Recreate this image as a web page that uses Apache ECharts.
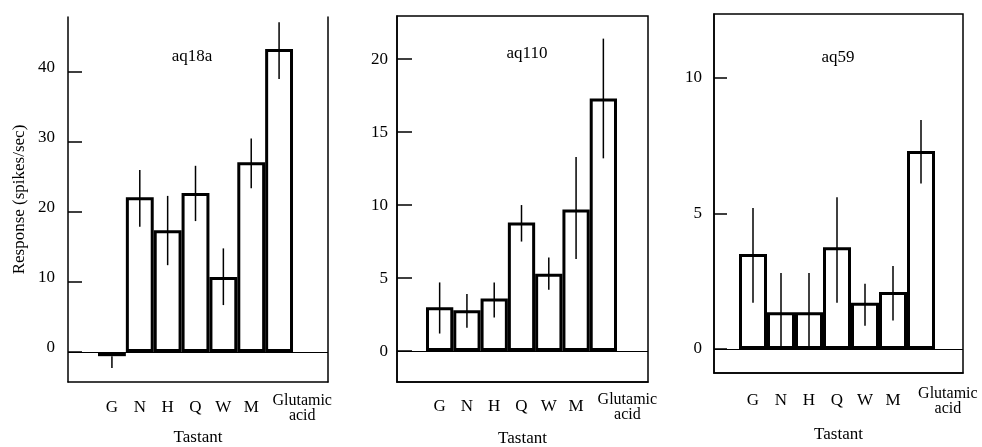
<!DOCTYPE html>
<html>
<head>
<meta charset="utf-8">
<script src="https://cdn.jsdelivr.net/npm/echarts@6/dist/echarts.min.js"></script>
<style>
  html, body { margin: 0; padding: 0; background: #fff; }
  #chart { width: 982px; height: 447px; }
</style>
</head>
<body>
<div id="chart"></div>
<script>
// tastants, same order in every panel
const categories = ['G', 'N', 'H', 'Q', 'W', 'M', 'Glutamic acid'];

// aq18a
const aq18aMean = [-0.6, 22.1, 17.4, 22.7, 10.7, 27.1, 43.3];
const aq18aLow  = [-2.3, 17.9, 12.4, 18.7, 6.7, 23.4, 39.0];
const aq18aHigh = [-0.6, 26.0, 22.3, 26.6, 14.8, 30.5, 47.1];
const aq18aTicks = [0, 10, 20, 30, 40];

// aq110
const aq110Mean = [3.0, 2.8, 3.6, 8.8, 5.3, 9.7, 17.3];
const aq110Low  = [1.2, 1.6, 2.3, 7.5, 4.2, 6.3, 13.2];
const aq110High = [4.7, 3.9, 4.7, 10.0, 6.4, 13.3, 21.4];
const aq110Ticks = [0, 5, 10, 15, 20];

// aq59
const aq59Mean = [3.5, 1.35, 1.35, 3.75, 1.7, 2.1, 7.3];
const aq59Low  = [1.7, 0, 0, 1.7, 0.85, 1.05, 6.1];
const aq59High = [5.2, 2.8, 2.8, 5.6, 2.4, 3.06, 8.45];
const aq59Ticks = [0, 5, 10];

const FONT = 'Liberation Serif';

// glutShift: the two-line last label sits to the right of its bar in the print
// lift: tick labels of the first panel sit a little above their ticks
const panels = [
  { name: 'aq18a', mean: aq18aMean, low: aq18aLow, high: aq18aHigh, ticks: aq18aTicks,
    grid: { left: 68, top: 17, width: 260, height: 365 }, x: [-1.577, 7.756], y: [-4.29, 47.86],
    tickLen: 14, labelMargin: 13, lift: true, catMargin: 26, namegap: 47, glutShift: 0.83, title: [192, 48], frame: false },
  { name: 'aq110', mean: aq110Mean, low: aq110Low, high: aq110High, ticks: aq110Ticks,
    grid: { left: 397, top: 16, width: 251, height: 366 }, x: [-1.563, 7.636], y: [-2.12, 22.95],
    tickLen: 15, labelMargin: 9, lift: false, catMargin: 25, namegap: 48, glutShift: 0.88, title: [527, 45], frame: true },
  { name: 'aq59', mean: aq59Mean, low: aq59Low, high: aq59High, ticks: aq59Ticks,
    grid: { left: 714, top: 14, width: 249, height: 359 }, x: [-1.393, 7.5], y: [-0.89, 12.36],
    tickLen: 13, labelMargin: 12, lift: false, catMargin: 28, namegap: 53, glutShift: 0.96, title: [838, 49], frame: true }
];

const chart = echarts.init(document.getElementById('chart'));

const grid = [], xAxis = [], yAxis = [], series = [], title = [];

panels.forEach((p, k) => {
  grid.push(Object.assign({
    show: p.frame, borderColor: '#000', borderWidth: 1.5, backgroundColor: 'transparent',
    outerBoundsMode: 'none'
  }, p.grid));

  title.push({
    text: p.name, left: p.title[0], top: p.title[1], textAlign: 'center', padding: 0,
    textStyle: { fontFamily: FONT, fontSize: 17, fontWeight: 'normal', color: '#000' }
  });

  const last = categories.length - 1;

  xAxis.push({
    type: 'value', gridIndex: k, min: p.x[0], max: p.x[1], position: 'bottom',
    name: 'Tastant', nameLocation: 'middle', nameGap: p.namegap,
    nameTextStyle: { fontFamily: FONT, fontSize: 17, color: '#000' },
    axisLine: { show: true, onZero: false, lineStyle: { color: '#000', width: 1.5 } },
    axisTick: { show: false },
    splitLine: { show: false },
    axisLabel: {
      customValues: categories.map((c, i) => (i === last ? i + p.glutShift : i)),
      margin: p.catMargin, verticalAlign: 'middle',
      fontFamily: FONT, fontSize: 17, color: '#000',
      formatter: v => {
        const c = categories[Math.floor(v + 0.01)];
        if (c.indexOf(' ') < 0) return c;
        return c.split(' ').map(w => '{g|' + w + '}').join('\n');
      },
      rich: { g: { fontFamily: FONT, fontSize: 16, lineHeight: 15, color: '#000' } }
    }
  });

  const yLabel = {
    customValues: p.ticks, margin: p.labelMargin,
    fontFamily: FONT, fontSize: 17, color: '#000'
  };
  if (p.lift) {
    yLabel.verticalAlign = 'bottom';
    yLabel.lineHeight = 8;
  }

  yAxis.push({
    type: 'value', gridIndex: k, min: p.y[0], max: p.y[1],
    name: k === 0 ? 'Response (spikes/sec)' : '', nameLocation: 'middle', nameGap: 40,
    nameTextStyle: { fontFamily: FONT, fontSize: 17, color: '#000' },
    axisLine: { show: true, onZero: false, lineStyle: { color: '#000', width: 1.5 } },
    axisTick: { show: true, inside: true, length: p.tickLen, customValues: p.ticks, lineStyle: { color: '#000', width: 1.5 } },
    axisLabel: yLabel,
    splitLine: { show: false }
  });

  const yi = yAxis.length - 1;

  // right edge of the frame for the first panel (its top edge is missing in the print)
  if (!p.frame) {
    yAxis.push({
      type: 'value', gridIndex: k, min: p.y[0], max: p.y[1], position: 'right',
      axisLine: { show: true, onZero: false, lineStyle: { color: '#000', width: 1.5 } },
      axisTick: { show: false }, axisLabel: { show: false }, splitLine: { show: false }
    });
  }

  series.push({
    type: 'bar', xAxisIndex: k, yAxisIndex: yi,
    data: p.mean.map((v, i) => [i, v]),
    barWidth: '100%',
    itemStyle: { color: '#fff', borderColor: '#000', borderWidth: 3 },
    silent: true,
    markLine: {
      silent: true, symbol: 'none', label: { show: false },
      lineStyle: { color: '#000', width: 1, type: 'solid' },
      data: [{ yAxis: 0 }]
    }
  });

  series.push({
    type: 'custom', xAxisIndex: k, yAxisIndex: yi, z: 5, silent: true,
    data: p.low.map((l, i) => [i, l, p.high[i]]),
    encode: { x: 0, y: [1, 2] },
    renderItem: (params, api) => {
      const a = api.coord([api.value(0), api.value(1)]);
      const b = api.coord([api.value(0), api.value(2)]);
      return {
        type: 'line',
        shape: { x1: a[0], y1: a[1], x2: b[0], y2: b[1] },
        style: { stroke: '#000', lineWidth: 1.5 }
      };
    }
  });
});

chart.setOption({
  backgroundColor: '#fff',
  animation: false,
  title: title,
  grid: grid,
  xAxis: xAxis,
  yAxis: yAxis,
  series: series
});
</script>
</body>
</html>
